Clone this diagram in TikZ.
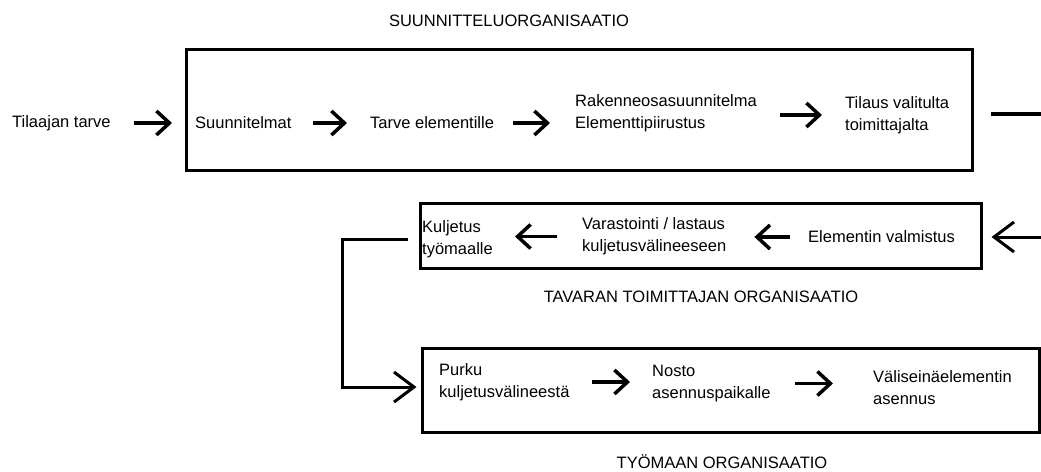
\documentclass[tikz,border=0pt]{standalone}
\usepackage{fontspec}
\setmainfont{Liberation Sans}
\usetikzlibrary{arrows.meta}
\tikzset{
  txt/.style={inner sep=0pt, anchor=west, align=left},
  orgbox/.style={draw, line width=3pt, inner sep=0pt},
  arr/.style={line width=3.5pt, -{Straight Barb[length=13pt,width=24pt]}},
  bigarr/.style={line width=3pt, -{Straight Barb[length=20pt,width=30pt]}}
}

\begin{document}
\begin{tikzpicture}[x=1pt,y=-1pt,font=\fontsize{16.5}{22}\selectfont]
  \useasboundingbox (0,0) rectangle (1041,471);
  \node[orgbox, minimum width=786pt, minimum height=121pt] (suunbox) at (579,109.5) {};
  \node[orgbox, minimum width=561pt, minimum height=65pt] (toimbox) at (700.5,235.5) {};
  \node[orgbox, minimum width=617pt, minimum height=84pt] (tyobox) at (730.5,390) {};
  \node (suuncap) at (509,21) {SUUNNITTELUORGANISAATIO};
  \node (toimcap) at (701,297) {TAVARAN TOIMITTAJAN ORGANISAATIO};
  \node (tyocap) at (722,462) {TYÖMAAN ORGANISAATIO};
  \node[txt] (tarve) at (12,123) {Tilaajan tarve};
  \node[txt] (suun) at (195,123) {Suunnitelmat};
  \node[txt] (elem) at (370,123) {Tarve elementille};
  \node[txt] (rak) at (575,113) {Rakenneosasuunnitelma\\Elementtipiirustus};
  \node[txt] (tilaus) at (845,115) {Tilaus valitulta\\toimittajalta};
  \node[txt] (kulj) at (422,239) {Kuljetus\\työmaalle};
  \node[txt] (var) at (582,236.5) {Varastointi / lastaus\\kuljetusvälineeseen};
  \node[txt] (valm) at (808,237) {Elementin valmistus};
  \node[txt] (purku) at (439,382) {Purku\\kuljetusvälineestä};
  \node[txt] (nosto) at (652,383.5) {Nosto\\asennuspaikalle};
  \node[txt] (vali) at (873,387.5) {Väliseinäelementin\\asennus};
  \coordinate (oikA) at (1041,114);
  \coordinate (oikB) at (1041,237);
  \coordinate (kulma) at (342,387);
  \draw[arr, shorten <=23pt, shorten >=23pt] (tarve.east) -- (suun.west);
  \draw[arr, shorten <=21pt, shorten >=23pt] (suun.east) -- (elem.west);
  \draw[arr, shorten <=19pt, shorten >=25pt] (elem.east) -- (elem.east -| rak.west);
  \draw[arr, shorten <=23pt, shorten >=23pt] (tilaus.west -| rak.east) -- (tilaus.west);
  \draw[line width=3.5pt, shorten <=17pt] (oikA -| suunbox.east) -- (oikA);
  \draw[bigarr, shorten >=9pt] (oikB) -- (oikB -| toimbox.east);
  \draw[arr, shorten <=18pt, shorten >=28pt] (valm.west) -- (valm.west -| var.east);
  \draw[arr, shorten <=25pt, shorten >=22pt] (var.west) -- (var.west -| kulj.east);
  \draw[bigarr, shorten >=4pt] ([xshift=-14pt]kulj.west) -| (kulma) -- (kulma -| tyobox.west);
  \draw[arr, shorten <=22pt, shorten >=22pt] (purku.east) -- (purku.east -| nosto.west);
  \draw[arr, shorten <=24pt, shorten >=40pt] (nosto.east) -- (nosto.east -| vali.west);
\end{tikzpicture}
\end{document}
